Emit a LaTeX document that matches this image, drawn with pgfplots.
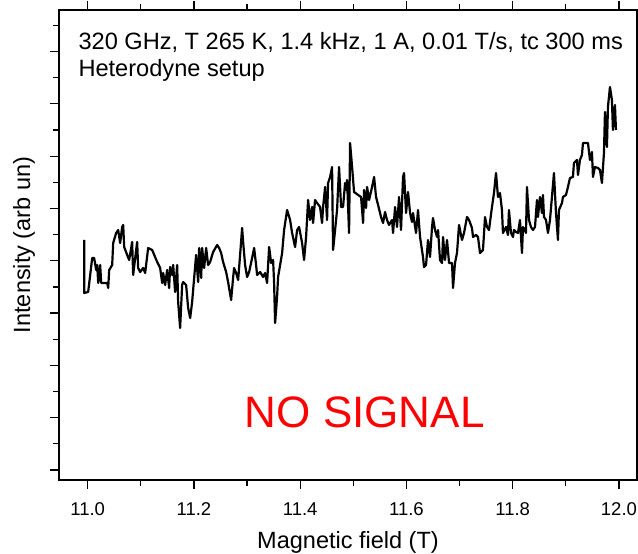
\documentclass[border=0pt]{standalone}
\usepackage{pgfplots}
\pgfplotsset{compat=1.18}
\usepackage{fontspec}
\setmainfont{Liberation Sans}
\begin{document}
\begin{tikzpicture}
\begin{axis}[
  scale only axis,
  width=578bp, height=470bp,
  xmin=10.946, xmax=12.034,
  ymin=0, ymax=470,
  axis line style={line width=1.2bp},
  tick align=outside,
  xtick pos=both, ytick pos=left,
  xtick={11,11.2,11.4,11.6,11.8,12},
  minor xtick={11.1,11.3,11.5,11.7,11.9},
  ytick={10,62.3,114.6,166.9,219.2,271.5,323.8,376.1,428.4},
  minor ytick={36.15,88.45,140.75,193.05,245.35,297.65,349.95,402.25,454.55},
  yticklabels={},
  major tick length=9bp, minor tick length=6bp,
  every tick/.style={line width=1.2bp, black},
  /pgf/number format/assume math mode=true,
  xticklabel style={/pgf/number format/fixed, /pgf/number format/fixed zerofill, /pgf/number format/precision=1, font=\fontsize{18.5bp}{22bp}\selectfont, yshift=-10bp},
  xlabel={Magnetic field (T)},
  ylabel={Intensity (arb un)},
  xlabel style={at={(axis description cs:0.5,0)}, anchor=base, yshift=-69bp, font=\fontsize{23.5bp}{28bp}\selectfont},
  ylabel style={at={(axis description cs:-0.05,0.5)}, anchor=base, rotate=0, font=\fontsize{23.5bp}{28bp}\selectfont},
  clip=false,
]
\addplot[black, line width=2.2bp, line join=round] coordinates {
(10.9934,240) (10.9934,187) (11.0009,188) (11.0085,222) (11.0122,222) (11.0160,210) (11.0179,215) (11.0198,197)
(11.0235,215) (11.0254,197) (11.0292,197) (11.0367,197) (11.0386,192) (11.0405,210) (11.0461,215) (11.0480,237)
(11.0536,247) (11.0574,250) (11.0611,237) (11.0649,253) (11.0668,255) (11.0687,233) (11.0743,225) (11.0781,220)
(11.0837,238) (11.0856,205) (11.0894,222) (11.0931,238) (11.0950,212) (11.0988,208) (11.1044,212) (11.1082,207)
(11.1138,232) (11.1214,230) (11.1308,218) (11.1364,212) (11.1402,197) (11.1421,207) (11.1458,195) (11.1496,210)
(11.1533,192) (11.1552,213) (11.1590,205) (11.1609,215) (11.1646,188) (11.1684,215) (11.1703,178) (11.1740,152)
(11.1778,195) (11.1797,198) (11.1853,195) (11.1891,172) (11.1929,162) (11.1966,178) (11.2004,202) (11.2041,225)
(11.2079,198) (11.2098,232) (11.2136,202) (11.2154,232) (11.2192,212) (11.2230,232) (11.2267,215) (11.2305,218)
(11.2361,228) (11.2437,235) (11.2474,232) (11.2512,227) (11.2549,218) (11.2606,208) (11.2643,198) (11.2700,180)
(11.2737,202) (11.2756,212) (11.2794,207) (11.2832,200) (11.2869,225) (11.2907,252) (11.2926,238) (11.2963,215)
(11.3001,203) (11.3039,208) (11.3095,222) (11.3133,232) (11.3170,215) (11.3189,205) (11.3246,208) (11.3302,203)
(11.3339,207) (11.3377,197) (11.3415,233) (11.3453,217) (11.3490,220) (11.3509,197) (11.3528,157) (11.3565,183)
(11.3584,203) (11.3660,227) (11.3697,250) (11.3754,270) (11.3810,260) (11.3848,247) (11.3904,233) (11.3942,250)
(11.3979,253) (11.4036,237) (11.4073,220) (11.4111,243) (11.4149,280) (11.4186,260) (11.4224,273) (11.4243,257)
(11.4280,280) (11.4318,277) (11.4374,273) (11.4412,257) (11.4431,273) (11.4469,293) (11.4506,260) (11.4525,297)
(11.4563,303) (11.4600,313) (11.4619,230) (11.4657,250) (11.4694,270) (11.4732,313) (11.4770,273) (11.4807,273)
(11.4845,297) (11.4864,290) (11.4883,300) (11.4920,247) (11.4939,337) (11.4977,313) (11.5014,288) (11.5090,285)
(11.5146,283) (11.5184,257) (11.5203,290) (11.5240,272) (11.5259,293) (11.5297,280) (11.5353,293) (11.5391,303)
(11.5428,283) (11.5466,275) (11.5522,263) (11.5560,257) (11.5597,268) (11.5635,260) (11.5673,255) (11.5729,260)
(11.5748,247) (11.5786,273) (11.5823,253) (11.5861,283) (11.5898,250) (11.5936,303) (11.5955,307) (11.5993,267)
(11.6030,288) (11.6068,267) (11.6105,258) (11.6124,267) (11.6181,247) (11.6218,270) (11.6256,243) (11.6312,223)
(11.6331,213) (11.6369,215) (11.6406,240) (11.6444,223) (11.6482,253) (11.6500,262) (11.6538,250) (11.6576,243)
(11.6595,250) (11.6632,220) (11.6670,217) (11.6689,243) (11.6726,220) (11.6764,240) (11.6802,217) (11.6858,217)
(11.6877,192) (11.6914,217) (11.6952,227) (11.6990,255) (11.7046,240) (11.7084,247) (11.7140,263) (11.7178,260)
(11.7234,252) (11.7253,243) (11.7309,245) (11.7347,243) (11.7385,227) (11.7441,230) (11.7479,263) (11.7516,253)
(11.7554,250) (11.7610,273) (11.7648,287) (11.7686,307) (11.7723,283) (11.7761,287) (11.7798,270) (11.7817,247)
(11.7874,253) (11.7911,245) (11.7930,270) (11.7968,247) (11.8006,243) (11.8024,250) (11.8062,248) (11.8100,247)
(11.8137,260) (11.8175,227) (11.8194,253) (11.8250,247) (11.8269,293) (11.8307,260) (11.8344,253) (11.8382,250)
(11.8420,253) (11.8457,280) (11.8476,263) (11.8514,283) (11.8551,267) (11.8570,285) (11.8589,263) (11.8627,260)
(11.8664,247) (11.8702,260) (11.8739,283) (11.8777,307) (11.8815,267) (11.8852,240) (11.8871,270) (11.8928,277)
(11.8946,283) (11.9003,285) (11.9040,293) (11.9078,302) (11.9134,303) (11.9153,317) (11.9210,320) (11.9229,305)
(11.9266,320) (11.9304,325) (11.9323,337) (11.9379,337) (11.9417,337) (11.9454,320) (11.9492,328) (11.9511,303)
(11.9548,313) (11.9605,312) (11.9643,310) (11.9680,297) (11.9718,327) (11.9737,368) (11.9774,333) (11.9793,373)
(11.9831,393) (11.9868,380) (11.9887,350) (11.9925,375) (11.9944,350)
};
\node[anchor=base west, font=\fontsize{23.6bp}{27bp}\selectfont, xshift=16bp, yshift=-40bp] at (rel axis cs:0,1) {320 GHz, T 265 K, 1.4 kHz, 1 A, 0.01 T/s, tc 300 ms};
\node[anchor=base west, font=\fontsize{23.6bp}{27bp}\selectfont, xshift=16bp, yshift=-67bp] at (rel axis cs:0,1) {Heterodyne setup};
\node[anchor=base, font=\fontsize{44bp}{50bp}\selectfont, text=red, yshift=52bp] at (rel axis cs:0.529,0) {NO SIGNAL};
\end{axis}
\pgfresetboundingbox
\path[use as bounding box] ([shift={(-59bp,-74bp)}]current axis.south west) rectangle ([shift={(1bp,10bp)}]current axis.north east);
\end{tikzpicture}
\end{document}
